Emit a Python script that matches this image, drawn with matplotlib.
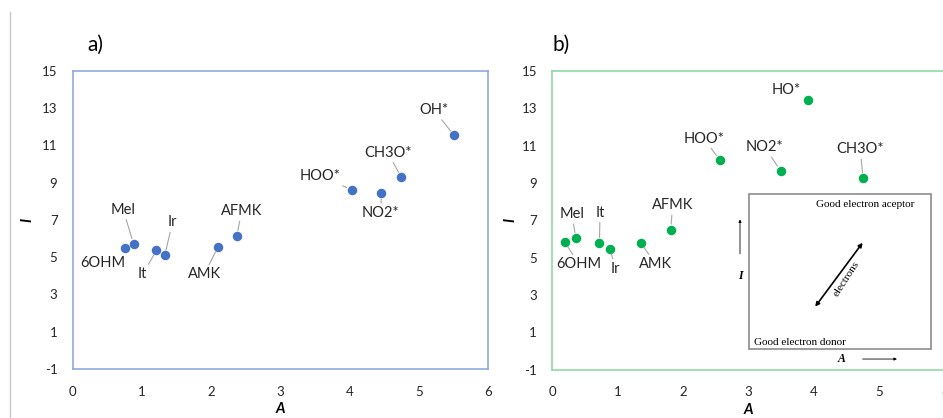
import matplotlib
matplotlib.use('Agg')
import matplotlib.pyplot as plt
from matplotlib.lines import Line2D
from matplotlib.patches import Rectangle

plt.rcParams['font.family'] = ['Lato', 'DejaVu Sans']
plt.rcParams['axes.unicode_minus'] = False

# panel a) data
names_a = ['6OHM', 'Mel', 'It', 'Ir', 'AMK', 'AFMK', 'HOO*', 'NO2*', 'CH3O*', 'OH*']
A_a = [0.75, 0.88, 1.21, 1.33, 2.10, 2.37, 4.03, 4.46, 4.75, 5.51]
I_a = [5.47, 5.70, 5.36, 5.09, 5.56, 6.13, 8.62, 8.42, 9.28, 11.53]

# panel b) data
names_b = ['6OHM', 'Mel', 'It', 'Ir', 'AMK', 'AFMK', 'HOO*', 'NO2*', 'CH3O*', 'HO*']
A_b = [0.19, 0.36, 0.72, 0.88, 1.35, 1.81, 2.56, 3.49, 4.75, 3.91]
I_b = [5.84, 6.04, 5.79, 5.48, 5.80, 6.50, 10.23, 9.66, 9.25, 13.45]

xticks = [0, 1, 2, 3, 4, 5, 6]
yticks = [-1, 1, 3, 5, 7, 9, 11, 13, 15]

# label placement (data coords) and whether a leader line is drawn
lab_a = [(0.44, 4.71, False), (0.73, 7.54, True), (1.01, 4.09, True), (1.44, 6.86, True),
         (1.90, 4.07, True), (2.44, 7.45, True), (3.57, 9.35, True), (4.45, 7.38, True),
         (4.55, 10.6, True), (5.22, 12.89, True)]
lab_b = [(0.41, 4.64, True), (0.30, 7.32, True), (0.73, 7.41, True), (0.97, 4.41, True),
         (1.58, 4.66, True), (1.84, 7.80, True), (2.32, 11.38, True), (3.25, 10.91, True),
         (4.71, 10.8, True), (3.57, 13.98, False)]

fig = plt.figure(figsize=(9.43, 4.18), dpi=100)
ax1 = fig.add_axes([0.0771, 0.1172, 0.4404, 0.7136])
ax2 = fig.add_axes([0.5857, 0.1156, 0.4161, 0.7146])

fig.add_artist(Line2D([10 / 943, 10 / 943], [0, 1 - 12 / 418], color='#C8C8C8', lw=1))


def draw(ax, A, I, names, labs, color, frame):
    ax.scatter(A, I, s=34, color=color, zorder=3)
    for a, i, n, (tx, ty, lead) in zip(A, I, names, labs):
        props = None
        if lead:
            props = dict(arrowstyle='-', color='#A6A6A6', lw=0.8, shrinkA=0, shrinkB=4)
        ax.annotate(n, xy=(a, i), xytext=(tx, ty), ha='center', va='center',
                    fontsize=10.5, color='#262626', arrowprops=props)
    ax.set_xlim(0, 6)
    ax.set_ylim(-1, 15)
    ax.set_xticks(xticks)
    ax.set_yticks(yticks)
    ax.tick_params(length=0, labelsize=9.5, colors='#262626')
    ax.tick_params(axis='x', pad=12)
    ax.tick_params(axis='y', pad=11)
    for s in ax.spines.values():
        s.set_color(frame)
        s.set_linewidth(1.2)
    ax.set_xlabel('A', fontsize=10.5, fontweight='bold', style='italic', labelpad=3)
    ax.set_ylabel('I', fontsize=10.5, fontweight='bold', style='italic', rotation=90,
                  va='center')
    ax.yaxis.set_label_coords(-0.108, 0.5)


draw(ax1, A_a, I_a, names_a, lab_a, '#4472C4', '#8FAADC')
draw(ax2, A_b, I_b, names_b, lab_b, '#00B050', '#92D9A6')
ax2.spines['right'].set_visible(False)

fig.text(95 / 943, 1 - 45 / 418, 'a)', fontsize=15, ha='center', va='center')
fig.text(561 / 943, 1 - 45 / 418, 'b)', fontsize=15, ha='center', va='center')

# inset scheme in panel b)
serif = ['Liberation Serif', 'DejaVu Serif']
ax2.add_patch(Rectangle((3.0, 0.09), 2.795, 8.3, fill=False, edgecolor='#8C8C8C', lw=1.2, zorder=2))
ax2.text(4.78, 7.87, 'Good electron aceptor', family=serif, fontsize=8, ha='center', va='center')
ax2.text(3.79, 0.48, 'Good electron donor', family=serif, fontsize=8, ha='center', va='center')
ax2.annotate('', xy=(4.745, 5.80), xytext=(4.02, 2.375),
             arrowprops=dict(arrowstyle='<|-|>', color='black', lw=1.2, mutation_scale=6,
                             shrinkA=0, shrinkB=0))
ax2.text(4.50, 3.85, 'electrons', family=serif, fontsize=8, rotation=57, ha='center', va='center')
ax2.annotate('', xy=(2.87, 7.05), xytext=(2.87, 5.2),
             arrowprops=dict(arrowstyle='-|>', color='black', lw=0.6, mutation_scale=4,
                             shrinkA=0, shrinkB=0))
ax2.text(2.88, 4.0, 'I', family=serif, fontsize=8.5, fontweight='bold', style='italic',
         ha='center', va='center')
ax2.text(4.43, -0.41, 'A', family=serif, fontsize=8.5, fontweight='bold', style='italic',
         ha='center', va='center')
ax2.annotate('', xy=(5.27, -0.43), xytext=(4.745, -0.43),
             arrowprops=dict(arrowstyle='-|>', color='black', lw=0.6, mutation_scale=4,
                             shrinkA=0, shrinkB=0))

fig.savefig('out.png', dpi=100)
